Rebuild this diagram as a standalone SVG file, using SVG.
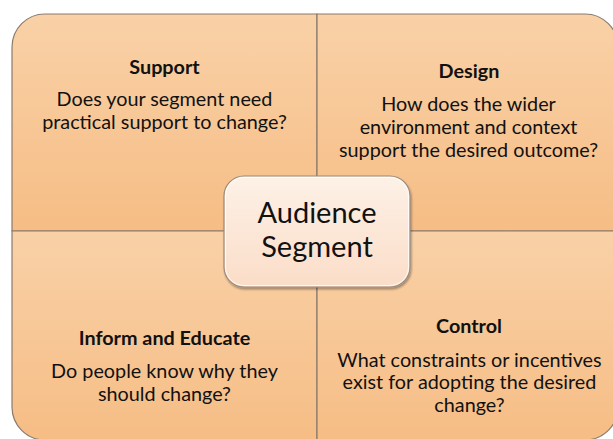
<svg xmlns="http://www.w3.org/2000/svg" width="613" height="439" viewBox="0 0 613 439">
  <defs>
    <linearGradient id="quadFill" x1="0" y1="0" x2="0" y2="1">
      <stop offset="0" stop-color="#F9D1A7"/>
      <stop offset="1" stop-color="#F6BD85"/>
    </linearGradient>
    <linearGradient id="coreFill" x1="0" y1="0" x2="0" y2="1">
      <stop offset="0" stop-color="#FDF1E7"/>
      <stop offset="1" stop-color="#FBDDC8"/>
    </linearGradient>
    <filter id="softShadow" x="-10%" y="-10%" width="125%" height="125%">
      <feGaussianBlur in="SourceAlpha" stdDeviation="1.2"/>
      <feOffset dx="1" dy="1.5" result="blur"/>
      <feComponentTransfer><feFuncA type="linear" slope="0.35"/></feComponentTransfer>
      <feMerge><feMergeNode/><feMergeNode in="SourceGraphic"/></feMerge>
    </filter>
    <style>
      .quad { fill: url(#quadFill); stroke: #8C7B6C; stroke-width: 1.2; }
      .core { fill: url(#coreFill); stroke: #9A8B7E; stroke-width: 1.2; }
      .core-rim { fill: none; stroke: #FFFFFF; stroke-opacity: 0.8; stroke-width: 1; }
      text { font-family: Lato, "Open Sans", sans-serif; fill: #111111; text-anchor: middle; }
      .title { font-size: 19.8px; font-weight: bold; }
      .body { font-size: 19.8px; }
      .core-label { font-size: 29px; }
    </style>
  </defs>

  <!-- Support quadrant (top left) -->
  <g id="support">
    <path class="quad" d="M12,231 V47 A33,33 0 0 1 45,14 H317 V231 Z"/>
    <text class="title" x="164.5" y="74">Support</text>
    <text class="body" x="164.5" y="106">Does your segment need</text>
    <text class="body" x="164.5" y="128.5">practical support to change?</text>
  </g>

  <!-- Design quadrant (top right) -->
  <g id="design">
    <path class="quad" d="M317,14 H585 A33,33 0 0 1 618,47 V231 H317 Z"/>
    <text class="title" x="469" y="77.5">Design</text>
    <text class="body" x="468.5" y="111">How does the wider</text>
    <text class="body" x="468.5" y="133.5">environment and context</text>
    <text class="body" x="468.5" y="156.5">support the desired outcome?</text>
  </g>

  <!-- Inform and Educate quadrant (bottom left) -->
  <g id="inform-educate">
    <path class="quad" d="M12,231 H317 V440 H45 A33,33 0 0 1 12,407 Z"/>
    <text class="title" x="164.5" y="345">Inform and Educate</text>
    <text class="body" x="164.5" y="378">Do people know why they</text>
    <text class="body" x="164.5" y="400.5">should change?</text>
  </g>

  <!-- Control quadrant (bottom right) -->
  <g id="control">
    <path class="quad" d="M317,231 H618 V407 A33,33 0 0 1 585,440 H317 Z"/>
    <text class="title" x="469" y="333">Control</text>
    <text class="body" x="469.5" y="366.5">What constraints or incentives</text>
    <text class="body" x="469.5" y="389">exist for adopting the desired</text>
    <text class="body" x="469.5" y="411.5">change?</text>
  </g>

  <!-- Central audience segment box -->
  <g id="audience-segment">
    <rect class="core" x="224" y="176" width="186" height="111" rx="20" ry="20" filter="url(#softShadow)"/>
    <rect class="core-rim" x="225.5" y="177.5" width="183" height="108" rx="18.5" ry="18.5"/>
    <text class="core-label" x="317" y="223">Audience</text>
    <text class="core-label" x="317" y="257">Segment</text>
  </g>
</svg>
